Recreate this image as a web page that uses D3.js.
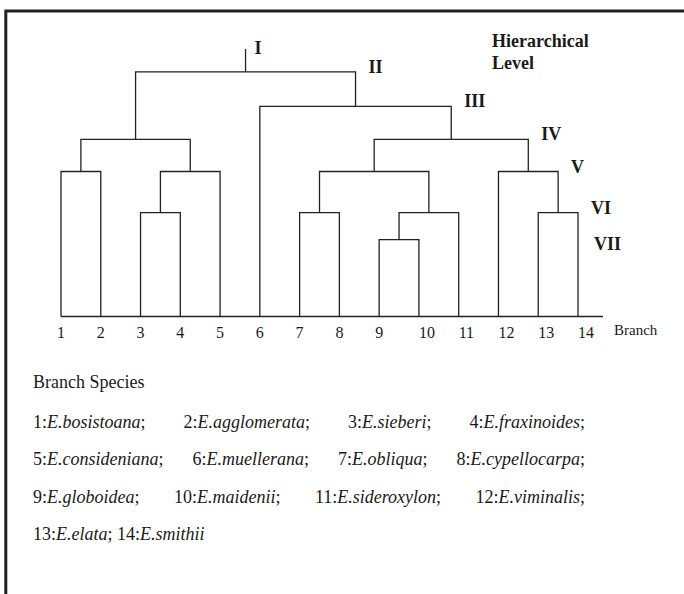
<!DOCTYPE html>
<html>
<head>
<meta charset="utf-8">
<script src="https://cdn.jsdelivr.net/npm/d3@7/dist/d3.min.js"></script>
<style>
  html, body { margin: 0; padding: 0; background: #fff; }
  svg { display: block; }
  text { font-family: "Liberation Serif", "Times New Roman", serif; fill: #1a1a1a; }
</style>
</head>
<body>
<script>
// ---- data ----
const branches = ["1","2","3","4","5","6","7","8","9","10","11","12","13","14"];
const species = ["E.bosistoana","E.agglomerata","E.sieberi","E.fraxinoides",
  "E.consideniana","E.muellerana","E.obliqua","E.cypellocarpa",
  "E.globoidea","E.maidenii","E.sideroxylon","E.viminalis","E.elata","E.smithii"];
const levels = ["I","II","III","IV","V","VI","VII"];
const levelHeights = [9.91, 9.06, 7.78, 6.56, 5.37, 3.85, 2.85];
// merges: [left, right, level]; "mN" refers to the N-th merge
const merges = [
  ["9","10","VII"],   // m0
  ["3","4","VI"],     // m1
  ["7","8","VI"],     // m2
  ["m0","11","VI"],   // m3
  ["13","14","VI"],   // m4
  ["1","2","V"],      // m5
  ["m1","5","V"],     // m6
  ["m2","m3","V"],    // m7
  ["12","m4","V"],    // m8
  ["m5","m6","IV"],   // m9
  ["m7","m8","IV"],   // m10
  ["6","m10","III"],  // m11
  ["m9","m11","II"]   // m12 (root, stem to level I)
];
const speciesRows = [[1,2,3,4],[5,6,7,8],[9,10,11,12],[13,14]];
const axisTitle = "Branch";
const legendTitle = "Branch Species";
const levelTitle = ["Hierarchical", "Level"];

// ---- drawing ----
const W = 684, H = 594;
const svg = d3.select("body").append("svg").attr("width", W).attr("height", H);
const ink = "#222";

// frame (top and left edges visible)
svg.append("path")
  .attr("d", `M5.8,${H + 10} V11 H${W + 10}`)
  .attr("fill", "none").attr("stroke", ink).attr("stroke-width", 3);

const x = d3.scalePoint().domain(branches).range([61, 578]);
const y = d3.scaleLinear().domain([0, 10]).range([316.5, 46.5]);
const levelY = l => y(levelHeights[levels.indexOf(l)]);

const g = svg.append("g")
  .attr("fill", "none").attr("stroke", ink).attr("stroke-width", 1.3);

const nodes = {};
branches.forEach(b => nodes[b] = { x: x(b), y: y(0) });
const levelEnds = {};
merges.forEach((m, i) => {
  const a = nodes[m[0]], b = nodes[m[1]];
  const ym = levelY(m[2]);
  g.append("path")
    .attr("d", `M${a.x},${a.y} V${ym} H${b.x} V${b.y}`);
  const end = Math.max(a.x, b.x);
  levelEnds[m[2]] = Math.max(levelEnds[m[2]] || 0, end);
  nodes["m" + i] = { x: (a.x + b.x) / 2, y: ym, end };
});
const root = nodes["m" + (merges.length - 1)];
g.append("path").attr("d", `M${root.x},${root.y} V${levelY("I")}`);

// baseline
g.append("path")
  .attr("d", `M${x(branches[0])},${y(0)} H${x(branches[branches.length - 1]) + 25}`);

// branch labels
svg.append("g").selectAll("text").data(branches).join("text")
  .attr("x", d => x(d))
  .attr("y", 337.5)
  .attr("text-anchor", d => d.length > 1 ? "start" : "middle")
  .attr("font-size", 16)
  .text(d => d);

svg.append("text")
  .attr("x", x(branches[branches.length - 1]) + 36)
  .attr("y", 335)
  .attr("font-size", 15)
  .text(axisTitle);

// hierarchical level labels
const lvG = svg.append("g").attr("font-weight", "bold").attr("font-size", 18);
let prevX = 0;
levels.forEach((l, i) => {
  let lx, ly;
  if (i === 0) {
    lx = root.x + 9; ly = levelY(l) + 5;
  } else {
    lx = levelEnds[l] + 13; ly = levelY(l) + 1;
    if (lx < prevX) { lx = prevX + 3; ly = levelY(l) + 10; }
  }
  prevX = lx;
  lvG.append("text").attr("x", lx).attr("y", ly).text(l);
});
levelTitle.forEach((t, i) => {
  lvG.append("text").attr("x", 492).attr("y", 47 + i * 21.5).text(t);
});

// species legend
svg.append("text").attr("x", 33).attr("y", 388).attr("font-size", 18).text(legendTitle);
const left = 33, right = 585;
speciesRows.forEach((row, r) => {
  const ry = 428 + r * 37.3;
  const last = r === speciesRows.length - 1;
  const items = row.map((n, k) => {
    const t = svg.append("text").attr("y", ry).attr("font-size", 18);
    t.append("tspan").text(n + ":");
    t.append("tspan").attr("font-style", "italic").text(species[n - 1]);
    if (!(last && k === row.length - 1)) t.append("tspan").text(";");
    return t;
  });
  const widths = items.map(t => t.node().getComputedTextLength());
  const total = d3.sum(widths);
  const gap = last ? 4.5 : (right - left - total) / (row.length - 1);
  let cx = left;
  items.forEach((t, k) => { t.attr("x", cx); cx += widths[k] + gap; });
});
</script>
</body>
</html>
